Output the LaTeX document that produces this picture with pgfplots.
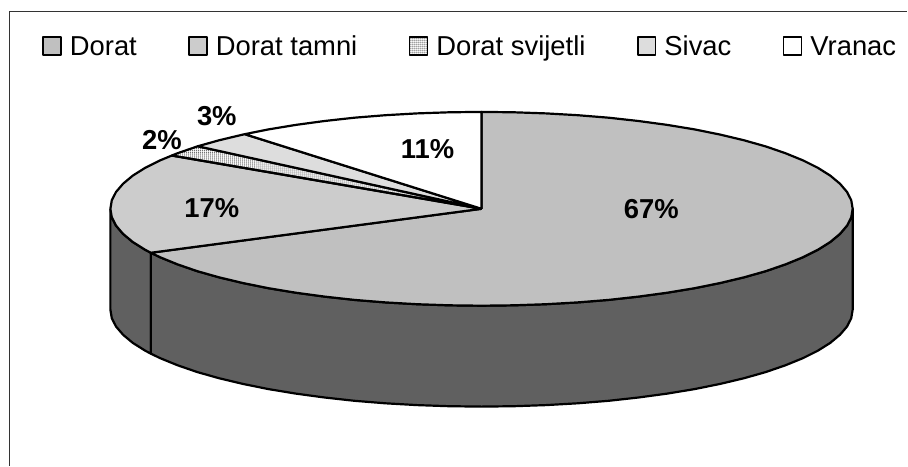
\documentclass[border=0pt]{standalone}
\usepackage{fontspec}
\setmainfont{Liberation Sans}
\usepackage{pgfplots}
\pgfplotsset{compat=1.18}
\usetikzlibrary{patterns}
\pgfdeclarepatternformonly{finechecker}{\pgfqpoint{0pt}{0pt}}{\pgfqpoint{1pt}{1pt}}{\pgfqpoint{2pt}{2pt}}{%
  \pgfpathrectangle{\pgfqpoint{0pt}{0pt}}{\pgfqpoint{1pt}{1pt}}%
  \pgfpathrectangle{\pgfqpoint{1pt}{1pt}}{\pgfqpoint{1pt}{1pt}}%
  \pgfusepath{fill}}
\definecolor{cDorat}{HTML}{C0C0C0}
\definecolor{cTamni}{HTML}{CCCCCC}
\definecolor{cSiv}{HTML}{DDDDDD}
\definecolor{cSide}{HTML}{606060}
\definecolor{cChk}{HTML}{707070}
\begin{document}
\begin{tikzpicture}
\begin{axis}[
  scale only axis, width=908pt, height=466pt,
  xmin=0, xmax=908, ymin=0, ymax=466, y dir=reverse,
  axis lines=none, clip=false,
  every axis plot/.append style={line width=2.2pt, line join=round, black},
  legend image code/.code={\draw[#1,line width=1.8pt] (0pt,0pt) rectangle (18pt,18pt);},
  legend columns=5,
  legend style={at={(axis cs:42,46)}, anchor=west, draw=none, fill=none, inner sep=0pt,
    font=\fontsize{27.4}{30}\selectfont,
    /tikz/every odd column/.append style={column sep=8pt},
    /tikz/every even column/.append style={column sep=51.3pt},
    nodes={inner sep=0pt, anchor=base west}},
]
\path (axis cs:0,0) rectangle (axis cs:908,466);
% frame
\addplot[forget plot, no marks, line width=1.8pt, color=black!80] coordinates {(9.5,466) (9.5,11.5) (908,11.5)};
% side walls
\addplot[forget plot, no marks, fill=cSide] coordinates {
 (110.5,209) (111.9,217.5) (116.1,225.8) (123.2,234.1) (132.9,242.2) (145.3,250.0) (151,253)
 (151,354) (145.3,351.0) (132.9,343.2) (123.2,335.1) (116.1,326.8) (111.9,318.5) (110.5,310) (110.5,209)};
\addplot[forget plot, no marks, fill=cSide] coordinates {
 (151,253) (160.3,257.5) (177.7,264.6) (197.4,271.4) (219.3,277.6) (243.2,283.3) (268.9,288.5) (296.2,293.0) (325.0,296.9) (354.9,300.2) (385.9,302.7) (417.5,304.5) (449.6,305.6) (482,306)
 (514.4,305.6) (546.5,304.5) (578.1,302.7) (609.1,300.2) (639.0,296.9) (667.8,293.0) (695.1,288.5) (720.8,283.3) (744.7,277.6) (766.6,271.4) (786.3,264.6) (803.7,257.5) (818.7,250.0) (831.1,242.2) (840.8,234.1) (847.9,225.8) (852.1,217.5) (853.5,209)
 (853.5,310) (852.1,318.5) (847.9,326.8) (840.8,335.1) (831.1,343.2) (818.7,351.0) (803.7,358.5) (786.3,365.6) (766.6,372.4) (744.7,378.6) (720.8,384.3) (695.1,389.5) (667.8,394.0) (639.0,397.9) (609.1,401.2) (578.1,403.7) (546.5,405.5) (514.4,406.6) (482,407)
 (449.6,406.6) (417.5,405.5) (385.9,403.7) (354.9,401.2) (325.0,397.9) (296.2,394.0) (268.9,389.5) (243.2,384.3) (219.3,378.6) (197.4,372.4) (177.7,365.6) (160.3,358.5) (151,354) (151,253)};
% top face: Dorat
\addplot[no marks, fill=cDorat] coordinates {
 (482,209) (482,112) (514.4,112.4) (546.5,113.5) (578.1,115.3) (609.1,117.8) (639.0,121.1) (667.8,125.0) (695.1,129.5) (720.8,134.7) (744.7,140.4) (766.6,146.6) (786.3,153.4) (803.7,160.5) (818.7,168.0) (831.1,175.8) (840.8,183.9) (847.9,192.2) (852.1,200.5) (853.5,209)
 (852.1,217.5) (847.9,225.8) (840.8,234.1) (831.1,242.2) (818.7,250.0) (803.7,257.5) (786.3,264.6) (766.6,271.4) (744.7,277.6) (720.8,283.3) (695.1,288.5) (667.8,293.0) (639.0,296.9) (609.1,300.2) (578.1,302.7) (546.5,304.5) (514.4,305.6) (482,306)
 (449.6,305.6) (417.5,304.5) (385.9,302.7) (354.9,300.2) (325.0,296.9) (296.2,293.0) (268.9,288.5) (243.2,283.3) (219.3,277.6) (197.4,271.4) (177.7,264.6) (160.3,257.5) (151,253) (482,209)};
\addlegendentry{Dorat}
% Dorat tamni
\addplot[no marks, fill=cTamni] coordinates {
 (482,209) (151,253) (145.3,250.0) (132.9,242.2) (123.2,234.1) (116.1,225.8) (111.9,217.5) (110.5,209) (111.9,200.5) (116.1,192.2) (123.2,183.9) (132.9,175.8) (145.3,168.0) (160.3,160.5) (172,155.7) (482,209)};
\addlegendentry{Dorat tamni}
% Dorat svijetli
\addplot[no marks, pattern=finechecker, pattern color=cChk] coordinates {
 (482,209) (172,155.7) (177.7,153.4) (197.4,146.6) (198,146.4) (482,209)};
\addlegendentry{Dorat svijetli}
% Sivac
\addplot[no marks, fill=cSiv] coordinates {
 (482,209) (198,146.4) (219.3,140.4) (243.2,134.7) (245,134.3) (482,209)};
\addlegendentry{Sivac}
% Vranac
\addplot[no marks, fill=white] coordinates {
 (482,209) (245,134.3) (268.9,129.5) (296.2,125.0) (325.0,121.1) (354.9,117.8) (385.9,115.3) (417.5,113.5) (449.6,112.4) (482,112) (482,209)};
\addlegendentry{Vranac}
% data labels
\begin{scope}[every node/.style={font=\fontsize{27.4}{30}\selectfont\bfseries, inner sep=0pt, anchor=center}]
\node at (axis cs:652,209) {67\%};
\node at (axis cs:212,208) {17\%};
\node at (axis cs:162,140) {2\%};
\node at (axis cs:217,116) {3\%};
\node at (axis cs:428,149) {11\%};
\end{scope}
\end{axis}
\end{tikzpicture}
\end{document}
